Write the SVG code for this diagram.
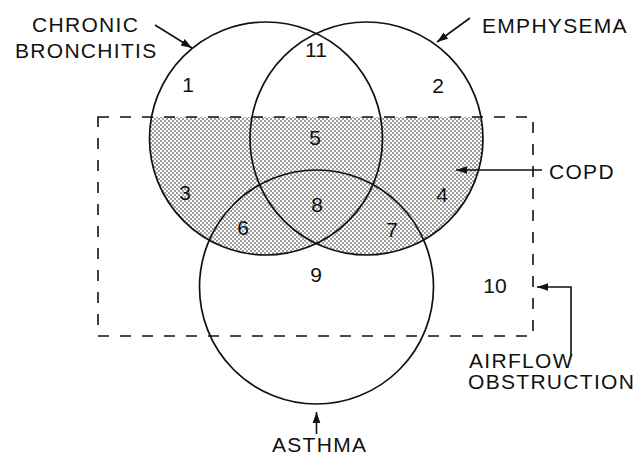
<svg xmlns="http://www.w3.org/2000/svg" width="640" height="455" viewBox="0 0 640 455">
<defs>
<pattern id="dots" width="4" height="4" patternUnits="userSpaceOnUse">
<rect width="4" height="4" fill="#fff"/>
<circle cx="1" cy="1" r="0.8" fill="#222"/>
<circle cx="3" cy="3" r="0.8" fill="#222"/>
</pattern>
<clipPath id="below"><rect x="0" y="117" width="640" height="338"/></clipPath>
<marker id="ah" viewBox="0 0 10 10" refX="10" refY="5" markerWidth="11" markerHeight="11" markerUnits="userSpaceOnUse" orient="auto">
<path d="M0,1.5 L10,5 L0,8.5 Z" fill="#111"/>
</marker>
<style>
.c{fill:none;stroke:#111;stroke-width:1.7}
.lbl{font-family:"Liberation Sans",Arial,sans-serif;font-size:21px;letter-spacing:1.3px;fill:#111}
.num{font-family:"Liberation Sans",Arial,sans-serif;font-size:21px;fill:#111;text-anchor:middle}
.arr{fill:none;stroke:#111;stroke-width:1.6;marker-end:url(#ah)}
</style>
</defs>
<rect width="640" height="455" fill="#fff"/>
<g id="copd-shading" clip-path="url(#below)">
<circle cx="266" cy="138.5" r="116.5" fill="url(#dots)"/>
<circle cx="366.5" cy="138.5" r="116.5" fill="url(#dots)"/>
</g>
<g id="airflow-obstruction">
<rect x="98" y="117" width="435" height="219" fill="none" stroke="#111" stroke-width="1.6" stroke-dasharray="11 11"/>
</g>
<g id="chronic-bronchitis">
<circle class="c" cx="266" cy="138.5" r="116.5"/>
</g>
<g id="emphysema">
<circle class="c" cx="366.5" cy="138.5" r="116.5"/>
</g>
<g id="asthma">
<circle class="c" cx="316.5" cy="287" r="117"/>
</g>
<g id="regions">
<text class="num" x="188" y="92">1</text>
<text class="num" x="438" y="93">2</text>
<text class="num" x="316" y="57">11</text>
<text class="num" x="315" y="145">5</text>
<text class="num" x="185" y="200">3</text>
<text class="num" x="317" y="212">8</text>
<text class="num" x="442" y="202">4</text>
<text class="num" x="243" y="235">6</text>
<text class="num" x="392" y="237">7</text>
<text class="num" x="316" y="282">9</text>
<text class="num" x="495" y="293">10</text>
</g>
<g id="connectors">
<line class="arr" x1="155" y1="25" x2="192" y2="48"/>
<line class="arr" x1="470" y1="18" x2="437" y2="42"/>
<line class="arr" x1="542" y1="170" x2="456" y2="170"/>
<polyline class="arr" points="571,355 571,287 537,287"/>
<line class="arr" x1="316.5" y1="434" x2="316.5" y2="412"/>
</g>
<g id="labels">
<text class="lbl" x="32" y="32">CHRONIC</text>
<text class="lbl" x="15" y="58">BRONCHITIS</text>
<text class="lbl" x="482" y="33">EMPHYSEMA</text>
<text class="lbl" x="549" y="179">COPD</text>
<text class="lbl" x="469" y="368">AIRFLOW</text>
<text class="lbl" x="468" y="389">OBSTRUCTION</text>
<text class="lbl" x="272" y="452">ASTHMA</text>
</g>
</svg>
